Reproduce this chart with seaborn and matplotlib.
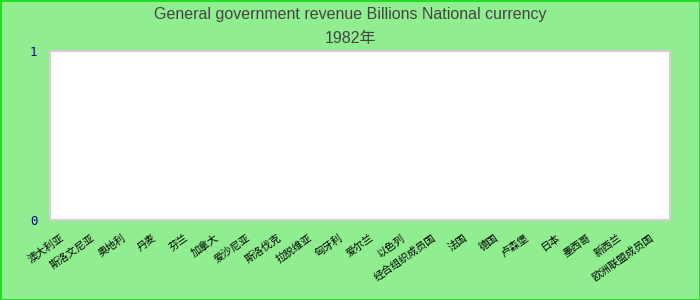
import matplotlib
matplotlib.use("Agg")
import matplotlib.pyplot as plt
import matplotlib.transforms as mtransforms
import seaborn as sns
import pandas as pd
import numpy as np

# data (1982 has no values -> empty axis from 0 to 1)
countries = ['澳大利亚', '斯洛文尼亚', '奥地利', '丹麦', '芬兰', '加拿大', '爱沙尼亚',
             '斯洛伐克', '拉脱维亚', '匈牙利', '爱尔兰', '以色列', '经合组织成员国',
             '法国', '德国', '卢森堡', '日本', '墨西哥', '新西兰', '欧洲联盟成员国']
revenue = [np.nan] * len(countries)
y_ticks = [0, 1]
title_lines = ['General government revenue Billions National currency', '1982年']

df = pd.DataFrame({'country': countries, 'revenue': revenue})

sns.set_theme(style="white")
plt.rcParams['font.family'] = ['Liberation Sans Narrow', 'Liberation Sans', 'Noto Sans CJK SC']

fig = plt.figure(figsize=(7, 3), dpi=100)
fig.patch.set_facecolor('#90ee90')
fig.patch.set_edgecolor('#22dd22')
fig.patch.set_linewidth(2)

ax = fig.add_axes([50 / 700, 1 - 220 / 300, 620 / 700, 169 / 300])
ax.set_facecolor('white')
sns.barplot(data=df, x='country', y='revenue', order=countries, ax=ax, color='#4472c4')

ax.set_ylim(0, 1)
ax.set_yticks(y_ticks)
ax.set_yticklabels([str(t) for t in y_ticks], color='#0000aa', fontsize=9,
                   family=['DejaVu Sans Mono'])
ax.tick_params(axis='y', length=0, pad=9)
ax.tick_params(axis='x', length=0, pad=9)
ax.set_xticks(range(len(countries)))
ax.set_xticklabels(countries, rotation=35, ha='right', rotation_mode='anchor',
                   fontsize=7.5, color='black', family=['Noto Sans CJK SC'])
shift = mtransforms.ScaledTranslation(-4 / 72, 0, fig.dpi_scale_trans)
for lbl in ax.get_xticklabels():
    lbl.set_transform(lbl.get_transform() + shift)
ax.set_xlabel('')
ax.set_ylabel('')
for s in ax.spines.values():
    s.set_color('#d0d0d0')
    s.set_linewidth(1.5)

fig.text(0.5, 1 - 14 / 300, title_lines[0], ha='center', va='center',
         fontsize=11.5, color='#444444')
fig.text(0.5, 1 - 38 / 300, title_lines[1], ha='center', va='center',
         fontsize=11.5, color='#444444')

fig.savefig('out.png', dpi=100, facecolor=fig.get_facecolor(), edgecolor=fig.get_edgecolor())
